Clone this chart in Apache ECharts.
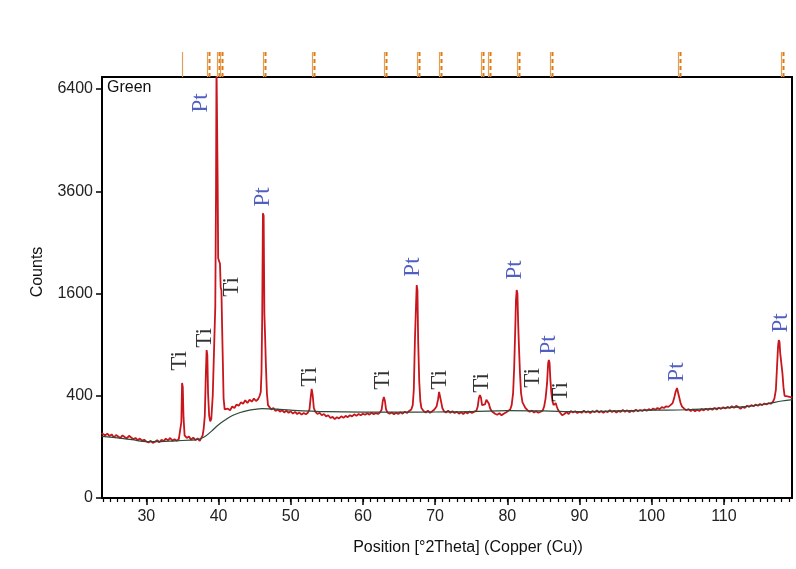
<!DOCTYPE html>
<html><head><meta charset="utf-8">
<script src="https://cdn.jsdelivr.net/npm/echarts@6/dist/echarts.min.js"></script>
<style>html,body{margin:0;padding:0;background:#fff}#c{width:796px;height:569px}</style>
</head><body><div id="c"></div>
<script>
// Measured scan: position (°2θ) and counts
const twoTheta = [
 23.8,24.0,24.3,24.6,24.9,25.2,25.5,25.8,26.1,26.4,26.7,27.0,27.3,27.6,27.9,28.2,28.5,28.8,29.1,29.4,29.7,30.0,30.3,30.6,30.9,31.2,31.5,31.8,32.1,32.4,32.7,33.0,33.3,33.6,33.9,34.2,34.5,
 34.75,34.85,34.95,35.05,35.15,35.3,
 35.6,35.9,36.2,36.5,36.8,37.1,37.4,37.6,
 37.8,37.95,38.1,38.25,38.35,38.45,38.55,38.7,38.85,39.0,
 39.2,39.4,39.55,39.65,39.72,39.8,39.88,
 39.95,40.05,40.2,40.3,40.4,40.5,40.6,40.7,40.85,41.0,
 41.3,41.6,41.9,42.2,42.5,42.8,43.1,43.4,43.7,44.0,44.3,44.6,44.9,45.2,45.5,
 45.7,45.85,45.95,46.05,46.15,46.25,46.35,46.45,46.55,46.7,46.85,
 47.0,47.3,47.6,47.9,48.2,48.5,48.8,49.1,49.4,49.7,50.0,50.3,50.6,50.9,51.2,51.5,51.8,52.1,52.4,
 52.6,52.75,52.9,53.05,53.2,53.4,
 53.7,54.0,54.3,54.6,54.9,55.2,55.5,55.8,56.1,56.4,56.7,57.0,57.3,57.6,57.9,58.2,58.5,58.8,59.1,59.4,59.7,60.0,60.3,60.6,60.9,61.2,61.5,61.8,62.1,62.4,
 62.6,62.75,62.9,63.05,63.2,63.4,
 63.7,64.0,64.3,64.6,64.9,65.2,65.5,65.8,66.1,66.4,66.7,
 66.9,67.05,67.2,67.35,67.45,67.55,67.65,67.8,67.95,68.1,
 68.4,68.7,69.0,69.3,69.6,69.9,
 70.2,70.4,70.55,70.7,70.85,71.0,71.2,
 71.5,71.8,72.1,72.4,72.7,73.0,73.3,73.6,73.9,74.2,74.5,74.8,75.1,75.4,75.7,
 75.9,76.05,76.2,76.35,76.5,76.7,76.9,77.1,77.3,77.45,77.6,77.8,
 78.0,78.3,78.6,78.9,79.2,79.5,79.8,80.1,80.4,
 80.6,80.8,80.95,81.1,81.2,81.3,81.4,81.5,81.6,81.75,81.9,82.1,82.3,82.5,
 82.8,83.1,83.4,83.7,84.0,84.3,84.6,84.9,85.1,
 85.3,85.5,85.65,85.75,85.85,85.95,86.1,86.25,86.4,86.55,
 86.7,86.85,87.0,87.2,87.4,87.6,
 87.9,88.2,88.5,88.8,89.1,89.4,89.7,90.0,90.3,90.6,90.9,91.2,91.5,91.8,92.1,92.4,92.7,93.0,93.3,93.6,93.9,94.2,94.5,94.8,95.1,95.4,95.7,96.0,96.3,96.6,96.9,97.2,97.5,97.8,98.1,98.4,98.7,99.0,99.3,99.6,99.9,100.2,100.5,100.8,101.1,101.4,101.7,102.0,102.3,102.6,102.9,
 103.1,103.3,103.5,103.65,103.8,104.0,104.2,
 104.5,104.8,105.1,105.4,105.7,106.0,106.3,106.6,106.9,107.2,107.5,107.8,108.1,108.4,108.7,109.0,109.3,109.6,109.9,110.2,110.5,110.8,111.1,111.4,111.7,112.0,112.3,112.6,112.9,113.2,113.5,113.8,114.1,114.4,114.7,115.0,115.3,115.6,115.9,116.2,116.5,116.8,
 117.0,117.2,117.35,117.5,117.6,117.7,117.8,117.95,118.1,118.25,118.4,118.6,118.8,119.0,119.2,119.5
];
const counts = [
 160,165,150,158,147,155,140,152,145,138,150,142,136,148,140,132,138,128,135,126,130,122,118,125,116,121,128,119,130,124,135,127,138,126,132,125,133,
 140,220,506,470,250,150,
 138,145,130,140,128,136,125,132,
 150,185,260,600,838,780,420,260,225,240,
 400,900,1400,3500,7200,7200,3800,
 2200,2170,2100,1700,1650,1100,700,380,300,290,
 305,295,320,310,335,325,350,340,365,345,370,355,378,360,375,
 400,430,600,1250,3100,3050,1300,1000,700,420,330,
 320,300,310,290,300,285,295,280,292,278,288,272,284,270,279,266,276,268,280,
 300,380,455,400,310,285,
 270,278,262,270,255,262,245,252,238,250,242,255,246,258,250,262,255,268,258,270,262,272,265,275,266,278,268,276,270,282,
 300,360,390,360,300,280,
 272,280,268,278,270,282,272,285,276,290,300,
 330,450,950,1400,1736,1650,950,520,360,310,
 290,280,292,278,288,300,
 320,370,430,420,350,310,290,
 280,292,278,288,276,285,272,282,270,283,274,286,276,285,290,
 320,380,406,385,330,320,335,370,383,340,310,290,
 280,272,265,275,262,272,280,290,300,
 330,420,650,1100,1500,1656,1600,1172,900,600,420,350,330,310,
 295,285,292,280,288,278,285,292,320,
 380,500,690,729,700,550,420,360,330,320,
 345,320,300,285,275,262,
 270,282,270,290,280,288,276,285,278,292,280,288,276,290,282,293,280,290,278,288,282,295,283,292,280,290,284,296,285,294,282,292,286,298,288,296,290,300,292,302,295,306,298,310,302,316,310,322,318,330,345,
 380,430,463,450,390,345,320,
 305,295,302,290,300,288,298,290,302,294,305,296,306,298,310,300,312,304,315,306,318,310,322,312,325,316,305,318,310,326,318,330,322,334,326,338,330,342,335,345,340,355,
 380,450,650,880,955,930,800,697,600,470,400,385,395,380,390,385
];
// Fitted background
const bgTheta  = [23.8,26,28,30,32,34,36,37,38,39,40,41,42,43,44,45,46,48,50,55,60,65,70,75,80,85,90,95,100,105,110,113,116,118,119.5];
const bgCounts = [145,138,130,122,122,125,128,130,142,170,205,235,262,280,292,300,305,302,295,285,282,282,283,285,292,290,285,290,295,298,310,320,340,360,370];
// Phase labels
const labelText   = ['Pt','Pt','Ti','Ti','Ti','Ti','Ti','Pt','Ti','Ti','Pt','Ti','Pt','Ti','Pt','Pt'];
const labelTheta  = [37.59,46.19,34.67,38.14,41.89,52.70,62.82,66.99,70.73,76.55,80.99,83.49,85.71,87.37,103.46,117.89];
const labelCounts = [5970,3467,718,980,1703,560,533,2041,533,506,1989,551,896,430,607,1172];
// Reference pattern markers (top strip); dashed flag 1 = paired dashed stick
const refTheta  = [35.0,38.38,39.76,40.2,46.2,52.9,62.9,67.5,70.5,76.3,77.3,81.4,85.85,103.6,117.9];
const refDashed = [0,1,1,1,1,1,1,1,1,1,1,1,1,1,1];
// Axis ticks
const yTickCounts = [0,400,1600,3600,6400];
const xTickLabels = [30,40,50,60,70,80,90,100,110];
const xMin = 23.86, xMax = 119.43, yMaxCounts = 6782;

const minorX = [];
for (let v = 24; v <= 119; v++) minorX.push(v);

const chart = echarts.init(document.getElementById('c'), null, {renderer:'canvas'});
const sans = 'Liberation Sans, Arial, sans-serif';
const serif = 'Liberation Serif, Times New Roman, serif';
const sq = v => Math.sqrt(v);

chart.setOption({
  animation:false,
  backgroundColor:'#fff',
  grid:[
    {left:102, top:77, right:4, bottom:71, show:true, borderColor:'#000', borderWidth:2, containLabel:false},
    {left:102, top:52, right:4, height:25, show:false}
  ],
  xAxis:[
    {type:'value', gridIndex:0, min:xMin, max:xMax, position:'bottom',
     axisLine:{show:true, onZero:false, lineStyle:{color:'#000', width:2}},
     axisTick:{show:true, customValues:xTickLabels, length:7, lineStyle:{color:'#000', width:1.5}},
     axisLabel:{show:true, customValues:xTickLabels, fontSize:16, color:'#222', fontFamily:sans, margin:11},
     splitLine:{show:false}},
    {type:'value', gridIndex:0, min:xMin, max:xMax, position:'bottom',
     axisLine:{show:false, onZero:false},
     axisTick:{show:true, customValues:minorX, length:4, lineStyle:{color:'#000', width:1.2}},
     axisLabel:{show:false}, splitLine:{show:false}},
    {type:'value', gridIndex:1, min:xMin, max:xMax, show:false}
  ],
  yAxis:[
    {type:'value', gridIndex:0, min:0, max:sq(yMaxCounts),
     axisLine:{show:true, lineStyle:{color:'#000', width:2}},
     axisTick:{show:true, customValues:yTickCounts.map(sq), length:6, lineStyle:{color:'#000', width:1.5}},
     axisLabel:{show:true, customValues:yTickCounts.map(sq), formatter:v=>String(Math.round(v*v)), fontSize:16, color:'#222', fontFamily:sans, margin:9},
     splitLine:{show:false}},
    {type:'value', gridIndex:1, min:0, max:1, show:false}
  ],
  graphic:[
    {type:'text', left:107, top:80, style:{text:'Green', font:'16px '+sans, fill:'#111'}},
    {type:'text', x:38, y:272, rotation:Math.PI/2, style:{text:'Counts', font:'16px '+sans, fill:'#111', align:'center', verticalAlign:'middle'}},
    {type:'text', x:468, y:548, style:{text:'Position [°2Theta] (Copper (Cu))', font:'16px '+sans, fill:'#111', align:'center', verticalAlign:'middle'}}
  ],
  series:[
    {type:'line', xAxisIndex:0, yAxisIndex:0, data:bgTheta.map((t,i)=>[t, sq(bgCounts[i])]),
     smooth:0.4, showSymbol:false, lineStyle:{color:'#2d4a3a', width:1.2}, z:3, clip:true},
    {type:'line', xAxisIndex:0, yAxisIndex:0, data:twoTheta.map((t,i)=>[t, sq(counts[i])]),
     showSymbol:false, lineStyle:{color:'#c8161c', width:1.8}, z:2, clip:true},
    {type:'scatter', xAxisIndex:0, yAxisIndex:0, symbol:'circle', symbolSize:1, itemStyle:{color:'rgba(0,0,0,0)'}, z:5,
     silent:true,
     data:labelTheta.map((t,i)=>({value:[t, sq(labelCounts[i])], name:labelText[i],
        label:{color: labelText[i]==='Pt' ? '#2638b0' : '#000'}})),
     label:{show:true, position:'inside', rotate:90, formatter:p=>p.name, fontFamily:serif, fontSize:23}},
    {type:'custom', xAxisIndex:2, yAxisIndex:1, z:4,
     data:refTheta.map((t,i)=>[t, refDashed[i]]),
     renderItem:function(params, api){
       const x = Math.round(api.coord([api.value(0), 0])[0]) + 0.5;
       const top = params.coordSys.y, bot = params.coordSys.y + params.coordSys.height;
       const kids = [{type:'line', shape:{x1:x, y1:top, x2:x, y2:bot}, style:{stroke:'#e0a055', lineWidth:1.2}}];
       if (api.value(1) === 1) kids.push({type:'line', shape:{x1:x+2, y1:top, x2:x+2, y2:bot}, style:{stroke:'#e07a12', lineWidth:2, lineDash:[4,3]}});
       return {type:'group', children:kids};
     }}
  ]
});
</script></body></html>
